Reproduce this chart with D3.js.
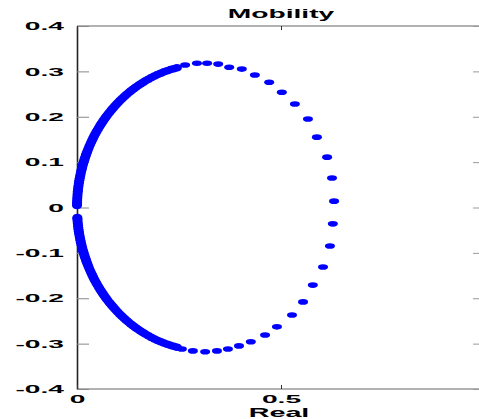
<!DOCTYPE html>
<html>
<head>
<meta charset="utf-8">
<script src="https://cdn.jsdelivr.net/npm/d3@7"></script>
<style>
  body { margin: 0; background: #fff; }
  svg { display: block; }
  text { font-family: "Liberation Sans", Arial, sans-serif; fill: #000; }
</style>
</head>
<body>
<script>
// mobility samples, low frequency first (upper half), then resonance, then lower half
const upperRe = [0.0000, 0.0001, 0.0002, 0.0004, 0.0006, 0.0009, 0.0012, 0.0016, 0.0020, 0.0025,
  0.0031, 0.0037, 0.0043, 0.0050, 0.0058, 0.0066, 0.0075, 0.0084, 0.0094, 0.0104,
  0.0115, 0.0126, 0.0138, 0.0150, 0.0163, 0.0177, 0.0191, 0.0205, 0.0220, 0.0235,
  0.0251, 0.0273, 0.0296, 0.0320, 0.0344, 0.0370, 0.0396, 0.0423, 0.0451, 0.0480,
  0.0510, 0.0540, 0.0571, 0.0603, 0.0636, 0.0670, 0.0704, 0.0739, 0.0775, 0.0812,
  0.0849, 0.0887, 0.0926, 0.0965, 0.1005, 0.1056, 0.1108, 0.1161, 0.1214, 0.1269,
  0.1325, 0.1382, 0.1439, 0.1497, 0.1556, 0.1616, 0.1676, 0.1750, 0.1825, 0.1900,
  0.1976, 0.2053, 0.2131, 0.2210, 0.2289, 0.2369, 0.2449];
const upperIm = [0.0044, 0.0077, 0.0110, 0.0151, 0.0193, 0.0234, 0.0276, 0.0317, 0.0358, 0.0399,
  0.0440, 0.0481, 0.0522, 0.0562, 0.0603, 0.0643, 0.0684, 0.0724, 0.0764, 0.0804,
  0.0844, 0.0884, 0.0924, 0.0963, 0.1003, 0.1042, 0.1081, 0.1119, 0.1158, 0.1196,
  0.1235, 0.1285, 0.1335, 0.1385, 0.1435, 0.1483, 0.1532, 0.1580, 0.1627, 0.1674,
  0.1721, 0.1767, 0.1813, 0.1857, 0.1902, 0.1945, 0.1989, 0.2031, 0.2073, 0.2114,
  0.2155, 0.2194, 0.2234, 0.2272, 0.2311, 0.2357, 0.2403, 0.2446, 0.2490, 0.2531,
  0.2573, 0.2611, 0.2650, 0.2686, 0.2723, 0.2756, 0.2790, 0.2827, 0.2864, 0.2897,
  0.2930, 0.2959, 0.2988, 0.3013, 0.3038, 0.3058, 0.3079];

const peakRe = [0.265, 0.294, 0.319, 0.346, 0.373, 0.404, 0.436, 0.471, 0.502, 0.534,
  0.566, 0.588, 0.613, 0.625, 0.630, 0.627, 0.620, 0.603, 0.578, 0.554,
  0.527, 0.490, 0.461, 0.426, 0.397, 0.370, 0.343, 0.314, 0.284, 0.257];
const peakIm = [0.314, 0.318, 0.318, 0.316, 0.309, 0.305, 0.292, 0.276, 0.254, 0.228,
  0.195, 0.155, 0.111, 0.065, 0.014, -0.036, -0.085, -0.131, -0.171, -0.208,
  -0.237, -0.263, -0.281, -0.296, -0.305, -0.312, -0.316, -0.318, -0.316, -0.312];

const lowerRe = [0.2449, 0.2369, 0.2289, 0.2210, 0.2131, 0.2053, 0.1976, 0.1900, 0.1825, 0.1750,
  0.1676, 0.1616, 0.1556, 0.1497, 0.1439, 0.1382, 0.1325, 0.1269, 0.1214, 0.1161,
  0.1108, 0.1056, 0.1005, 0.0965, 0.0926, 0.0887, 0.0849, 0.0812, 0.0775, 0.0739,
  0.0704, 0.0670, 0.0636, 0.0603, 0.0571, 0.0540, 0.0510, 0.0480, 0.0451, 0.0423,
  0.0396, 0.0370, 0.0344, 0.0320, 0.0296, 0.0273, 0.0251, 0.0235, 0.0220, 0.0205,
  0.0191, 0.0177, 0.0163, 0.0150, 0.0138, 0.0126, 0.0115, 0.0104, 0.0094, 0.0084,
  0.0075, 0.0066, 0.0058, 0.0050, 0.0043, 0.0037, 0.0031, 0.0025, 0.0020, 0.0016,
  0.0012, 0.0010, 0.0008];
const lowerIm = [-0.3079, -0.3058, -0.3038, -0.3013, -0.2988, -0.2959, -0.2930, -0.2897, -0.2864, -0.2827,
  -0.2790, -0.2756, -0.2723, -0.2686, -0.2650, -0.2611, -0.2573, -0.2531, -0.2490, -0.2446,
  -0.2403, -0.2357, -0.2311, -0.2272, -0.2234, -0.2194, -0.2155, -0.2114, -0.2073, -0.2031,
  -0.1989, -0.1945, -0.1902, -0.1857, -0.1813, -0.1767, -0.1721, -0.1674, -0.1627, -0.1580,
  -0.1532, -0.1483, -0.1435, -0.1385, -0.1335, -0.1285, -0.1235, -0.1196, -0.1158, -0.1119,
  -0.1081, -0.1042, -0.1003, -0.0963, -0.0924, -0.0884, -0.0844, -0.0804, -0.0764, -0.0724,
  -0.0684, -0.0643, -0.0603, -0.0562, -0.0522, -0.0481, -0.0440, -0.0399, -0.0358, -0.0317,
  -0.0276, -0.0248, -0.0220];

const xTicks = [0, 0.5, 1];
const yTicks = [-0.4, -0.3, -0.2, -0.1, 0, 0.1, 0.2, 0.3, 0.4];

const width = 479, height = 419;
const m = { left: 77, right: 485, top: 26, bottom: 389 };
const sx = 2.45; // the picture is stretched sideways

const toPoints = (rs, is, dense) => rs.map((r, i) => ({ re: r, im: is[i], dense: dense }));
const data = toPoints(upperRe, upperIm, true)
    .concat(toPoints(peakRe, peakIm, false), toPoints(lowerRe, lowerIm, true));

const x = d3.scaleLinear().domain([0, 1]).range([m.left, m.right]);
const y = d3.scaleLinear().domain([-0.4, 0.4]).range([m.bottom, m.top]);

const svg = d3.create("svg")
    .attr("width", width)
    .attr("height", height);
document.body.appendChild(svg.node());

// frame
svg.append("line").attr("x1", m.left).attr("x2", m.right).attr("y1", m.top).attr("y2", m.top)
    .attr("stroke", "#999").attr("stroke-width", 1.5);
svg.append("line").attr("x1", m.left).attr("x2", m.right).attr("y1", m.bottom).attr("y2", m.bottom)
    .attr("stroke", "#999").attr("stroke-width", 1.5);

const fmt = d => d === 0 ? "0" : String(d);

const gy = svg.append("g")
    .attr("transform", `translate(${m.left},0)`)
    .call(d3.axisLeft(y).tickValues(yTicks).tickFormat(fmt).tickSizeInner(-12).tickSizeOuter(0).tickPadding(13));
gy.select(".domain").attr("stroke", "#222").attr("stroke-width", 1.6);
gy.selectAll(".tick line").attr("stroke", "#888");
gy.selectAll("text")
    .attr("x", -13 / sx)
    .attr("transform", `scale(${sx},1)`)
    .style("font-size", "11.5px")
    .style("font-weight", "bold");

const gr = svg.append("g")
    .attr("transform", `translate(${m.right},0)`)
    .call(d3.axisRight(y).tickValues(yTicks).tickFormat("").tickSizeInner(-12).tickSizeOuter(0));
gr.select(".domain").attr("stroke", "#999");
gr.selectAll(".tick line").attr("stroke", "#999");

const gx = svg.append("g")
    .attr("transform", `translate(0,${m.bottom})`)
    .call(d3.axisBottom(x).tickValues(xTicks).tickFormat(fmt).tickSizeInner(-4).tickSizeOuter(0).tickPadding(6));
gx.select(".domain").remove();
gx.selectAll(".tick line").attr("stroke", "#333");
gx.selectAll(".tick text")
    .attr("x", 0)
    .attr("transform", `scale(${sx},1)`)
    .style("font-size", "11.5px")
    .style("font-weight", "bold");

const gt = svg.append("g")
    .attr("transform", `translate(0,${m.top})`)
    .call(d3.axisTop(x).tickValues(xTicks).tickFormat("").tickSizeInner(-4).tickSizeOuter(0));
gt.select(".domain").remove();
gt.selectAll(".tick line").attr("stroke", "#333");

// points
svg.append("g")
  .selectAll("ellipse")
  .data(data)
  .join("ellipse")
    .attr("cx", d => x(d.re))
    .attr("cy", d => y(d.im))
    .attr("rx", 5)
    .attr("ry", d => d.dense ? 3.8 : 2.8)
    .attr("fill", "#0000ff");

svg.append("text")
    .attr("transform", `translate(${(m.left + m.right) / 2},18) scale(2.35,1)`)
    .attr("text-anchor", "middle")
    .style("font-size", "12px")
    .style("font-weight", "bold")
    .text("Mobility");

svg.append("text")
    .attr("transform", `translate(279,417) scale(2.3,1)`)
    .attr("text-anchor", "middle")
    .style("font-size", "12.5px")
    .style("font-weight", "bold")
    .text("Real");
</script>
</body>
</html>
